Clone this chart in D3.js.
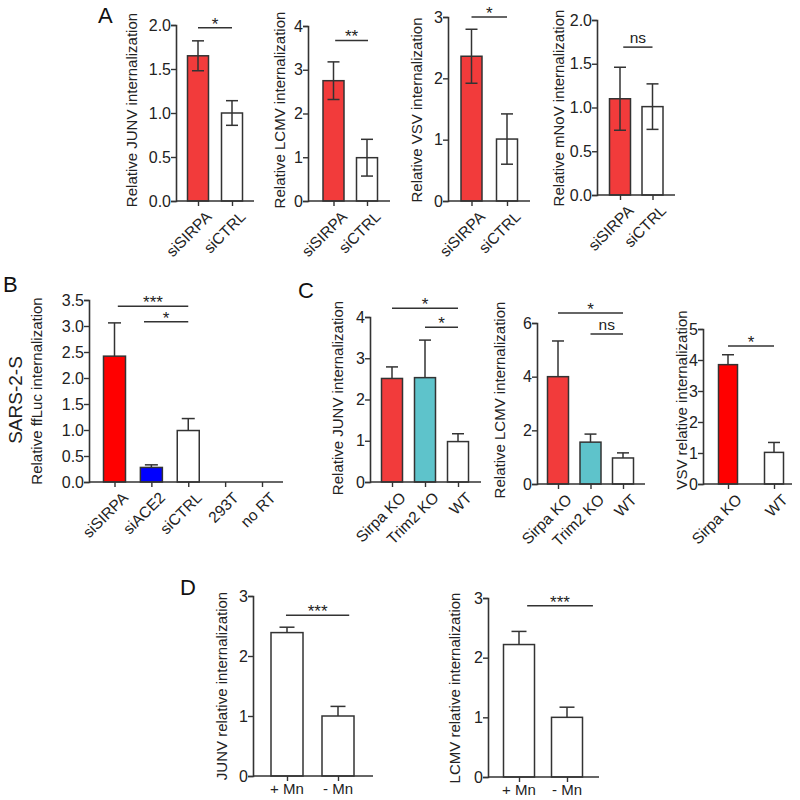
<!DOCTYPE html>
<html><head><meta charset="utf-8">
<script src="https://cdn.jsdelivr.net/npm/d3@7"></script>
<style>
body{margin:0;background:#fff;}
svg{font-family:"Liberation Sans",Arial,sans-serif;}
</style></head>
<body><svg id="c" width="800" height="800"></svg>
<script>
// ---------- DATA ----------
const aCategories = ["siSIRPA", "siCTRL"];
const aJUNV = [1.65, 1.00];   const aJUNVErr = [0.17, 0.14];
const aLCMV = [2.75, 0.99];   const aLCMVErr = [0.43, 0.42];
const aVSV  = [2.36, 1.01];   const aVSVErr  = [0.44, 0.41];
const aMNOV = [1.10, 1.01];   const aMNOVErr = [0.36, 0.26];

const bCategories = ["siSIRPA", "siACE2", "siCTRL", "293T", "no RT"];
const bValues = [2.42, 0.28, 0.99, 0, 0];
const bErr    = [0.64, 0.05, 0.23, 0, 0];

const cCategories = ["Sirpa KO", "Trim2 KO", "WT"];
const cJUNV = [2.51, 2.53, 0.98]; const cJUNVErr = [0.28, 0.91, 0.19];
const cLCMV = [4.00, 1.56, 0.97]; const cLCMVErr = [1.33, 0.30, 0.19];
const c3Categories = ["Sirpa KO", "WT"];
const cVSV = [3.85, 1.02];        const cVSVErr = [0.32, 0.32];

const dCategories = ["+ Mn", "- Mn"];
const dJUNV = [2.39, 1.00]; const dJUNVErr = [0.09, 0.16];
const dLCMV = [2.22, 1.00]; const dLCMVErr = [0.22, 0.17];

// significance brackets: from / to in category index units, level in data units
const sigA1 = [{from:0, to:1, level:1.97, label:"*"}];
const sigA2 = [{from:0.05, to:1.03, level:3.67, label:"**"}];
const sigA3 = [{from:0, to:1, level:3.0, label:"*"}];
const sigA4 = [{from:0.1, to:1, level:1.69, label:"ns"}];
const sigB  = [{from:0.09, to:2, level:3.38, label:"***"}, {from:0.8, to:2, level:3.08, label:"*"}];
const sigC1 = [{from:0, to:2, level:4.21, label:"*"}, {from:1, to:2, level:3.75, label:"*"}];
const sigC2 = [{from:0, to:2, level:6.37, label:"*"}, {from:1, to:2, level:5.59, label:"ns"}];
const sigC3 = [{from:0, to:1, level:4.45, label:"*"}];
const sigD1 = [{from:-0.02, to:1.22, level:2.68, label:"***"}];
const sigD2 = [{from:0.17, to:1.54, level:2.87, label:"***"}];

// ---------- STYLES ----------
const RED = "#f23b3b", PURE_RED = "#ff0000", BLUE = "#0000ff", TEAL = "#5ec3cb", WHITE = "#ffffff";
const INK = "#333333";
const TICK_FS = 16, XLAB_FS = 15.5, YLAB_FS = 15;

const svg = d3.select("#c");

function panel(o) {
  const g = svg.append("g");
  const y = d3.scaleLinear().domain([0, o.yMax]).range(o.yRange);
  const x = d3.scalePoint().domain(o.cats).range(o.centers);
  const xi = d3.scaleLinear().domain([0, o.cats.length - 1]).range(o.centers);

  // y axis
  const ya = d3.axisLeft(y).tickValues(o.yTicks).tickFormat(o.fmt).tickSizeOuter(0).tickSize(5);
  const yg = g.append("g").attr("transform", `translate(${o.axisX},0)`).call(ya);
  yg.select(".domain").attr("stroke", INK).attr("stroke-width", 1.6);
  yg.selectAll(".tick line").attr("stroke", INK).attr("stroke-width", 1.4);
  yg.selectAll(".tick text").attr("font-size", TICK_FS).attr("fill", "#222")
    .attr("font-family", "Liberation Sans, Arial, sans-serif").attr("x", -5);

  // bars
  o.vals.forEach((v, i) => {
    const cx = x(o.cats[i]);
    if (v > 0) {
      g.append("rect").attr("x", cx - o.barW / 2).attr("y", y(v))
        .attr("width", o.barW).attr("height", y(0) - y(v))
        .attr("fill", o.colors[i]).attr("stroke", INK).attr("stroke-width", 1.5);
    }
    const e = o.errs[i];
    if (e > 0) {
      const lo = o.twoSided ? v - e : v;
      g.append("line").attr("x1", cx).attr("x2", cx).attr("y1", y(lo)).attr("y2", y(v + e))
        .attr("stroke", INK).attr("stroke-width", 1.5);
      g.append("line").attr("x1", cx - o.capW / 2).attr("x2", cx + o.capW / 2)
        .attr("y1", y(v + e)).attr("y2", y(v + e)).attr("stroke", INK).attr("stroke-width", 1.5);
      if (o.twoSided) {
        g.append("line").attr("x1", cx - o.capW / 2).attr("x2", cx + o.capW / 2)
          .attr("y1", y(lo)).attr("y2", y(lo)).attr("stroke", INK).attr("stroke-width", 1.5);
      }
    }
  });

  // x axis
  const xa = d3.axisBottom(x).tickSize(5).tickSizeOuter(0).tickFormat("");
  const xg = g.append("g").attr("transform", `translate(0,${y(0)})`).call(xa);
  xg.select(".domain").remove();
  xg.selectAll(".tick line").attr("stroke", INK).attr("stroke-width", 1.4);
  g.append("line").attr("x1", o.axisX).attr("x2", o.axisEnd).attr("y1", y(0)).attr("y2", y(0))
    .attr("stroke", INK).attr("stroke-width", 1.6);

  // x labels
  o.cats.forEach(c => {
    const cx = x(c);
    if (o.rotate) {
      g.append("text").attr("transform", `translate(${cx + 7},${y(0) + 9}) rotate(-45)`)
        .attr("text-anchor", "end").attr("dy", "0.7em").attr("font-size", XLAB_FS).attr("fill", "#222").text(c);
    } else {
      g.append("text").attr("x", cx).attr("y", y(0) + 18).attr("text-anchor", "middle")
        .attr("font-size", 15).attr("fill", "#222").text(c);
    }
  });

  // y label
  g.append("text").attr("transform", `translate(${o.labelX},${o.labelY}) rotate(-90)`)
    .attr("text-anchor", "middle").attr("dy", "0.35em").attr("font-size", YLAB_FS)
    .attr("fill", "#222").text(o.ylabel);

  // significance
  o.sig.forEach(s => {
    const yy = y(s.level);
    g.append("line").attr("x1", xi(s.from)).attr("x2", xi(s.to)).attr("y1", yy).attr("y2", yy)
      .attr("stroke", INK).attr("stroke-width", 1.5);
    const isNs = s.label === "ns";
    g.append("text").attr("x", (xi(s.from) + xi(s.to)) / 2).attr("y", isNs ? yy - 4 : yy + 2)
      .attr("text-anchor", "middle").attr("font-size", isNs ? 15.5 : 17).attr("fill", "#222")
      .text(s.label);
  });
}

// Panel A
panel({cats:aCategories, vals:aJUNV, errs:aJUNVErr, colors:[RED, WHITE], twoSided:true,
  yMax:2, yTicks:[0,0.5,1,1.5,2], fmt:d3.format(".1f"), yRange:[201,25], axisX:176, axisEnd:254,
  centers:[198,232], barW:21, capW:12, rotate:true, ylabel:"Relative JUNV internalization", labelX:132, labelY:110, sig:sigA1});
panel({cats:aCategories, vals:aLCMV, errs:aLCMVErr, colors:[RED, WHITE], twoSided:true,
  yMax:4, yTicks:[0,1,2,3,4], fmt:d3.format("d"), yRange:[201,26], axisX:308, axisEnd:390,
  centers:[333.5,367], barW:21, capW:12, rotate:true, ylabel:"Relative LCMV internalization", labelX:280, labelY:110, sig:sigA2});
panel({cats:aCategories, vals:aVSV, errs:aVSVErr, colors:[RED, WHITE], twoSided:true,
  yMax:3, yTicks:[0,1,2,3], fmt:d3.format("d"), yRange:[201,17], axisX:448, axisEnd:530,
  centers:[471.5,507], barW:21, capW:12, rotate:true, ylabel:"Relative VSV internalization", labelX:417, labelY:110, sig:sigA3});
panel({cats:aCategories, vals:aMNOV, errs:aMNOVErr, colors:[RED, WHITE], twoSided:true,
  yMax:2, yTicks:[0,0.5,1,1.5,2], fmt:d3.format(".1f"), yRange:[195,20], axisX:597, axisEnd:675,
  centers:[620,652.5], barW:21, capW:12, rotate:true, ylabel:"Relative mNoV internalization", labelX:559, labelY:108, sig:sigA4});

// Panel B
panel({cats:bCategories, vals:bValues, errs:bErr, colors:[PURE_RED, BLUE, WHITE, WHITE, WHITE], twoSided:false,
  yMax:3.5, yTicks:[0,0.5,1,1.5,2,2.5,3,3.5], fmt:d3.format(".1f"), yRange:[482,300], axisX:89, axisEnd:283,
  centers:[114.5,262], barW:22, capW:13, rotate:true, ylabel:"Relative ffLuc internalization", labelX:37, labelY:391, sig:sigB});
svg.append("text").attr("transform","translate(15,400) rotate(-90)").attr("text-anchor","middle")
  .attr("dy","0.35em").attr("font-size",19).attr("fill","#222").text("SARS-2-S");

// Panel C
panel({cats:cCategories, vals:cJUNV, errs:cJUNVErr, colors:[RED, TEAL, WHITE], twoSided:false,
  yMax:4, yTicks:[0,1,2,3,4], fmt:d3.format("d"), yRange:[482,317], axisX:370, axisEnd:481,
  centers:[392,458], barW:21, capW:12, rotate:true, ylabel:"Relative JUNV internalization", labelX:338, labelY:398, sig:sigC1});
panel({cats:cCategories, vals:cLCMV, errs:cLCMVErr, colors:[RED, TEAL, WHITE], twoSided:false,
  yMax:6, yTicks:[0,2,4,6], fmt:d3.format("d"), yRange:[484,323], axisX:537, axisEnd:645,
  centers:[558,623], barW:21, capW:12, rotate:true, ylabel:"Relative LCMV internalization", labelX:500, labelY:400, sig:sigC2});
panel({cats:c3Categories, vals:cVSV, errs:cVSVErr, colors:[PURE_RED, WHITE], twoSided:false,
  yMax:5, yTicks:[0,1,2,3,4,5], fmt:d3.format("d"), yRange:[484,329], axisX:703, axisEnd:792,
  centers:[728,774], barW:19, capW:12, rotate:true, ylabel:"VSV relative internalization", labelX:682, labelY:400, sig:sigC3});

// Panel D
panel({cats:dCategories, vals:dJUNV, errs:dJUNVErr, colors:[WHITE, WHITE], twoSided:false,
  yMax:3, yTicks:[0,1,2,3], fmt:d3.format("d"), yRange:[776,596], axisX:253, axisEnd:373,
  centers:[287,338], barW:32, capW:15, rotate:false, ylabel:"JUNV relative internalization", labelX:222, labelY:686, sig:sigD1});
panel({cats:dCategories, vals:dLCMV, errs:dLCMVErr, colors:[WHITE, WHITE], twoSided:false,
  yMax:3, yTicks:[0,1,2,3], fmt:d3.format("d"), yRange:[777,598], axisX:488, axisEnd:599,
  centers:[519,567], barW:31, capW:15, rotate:false, ylabel:"LCMV relative internalization", labelX:455, labelY:688, sig:sigD2});

// Panel letters
[["A",98,23],["B",3,292],["C",298,298],["D",180,595]].forEach(([t,x,yv]) => {
  svg.append("text").attr("x",x).attr("y",yv).attr("font-size",22).attr("fill","#111").text(t);
});
</script></body></html>
